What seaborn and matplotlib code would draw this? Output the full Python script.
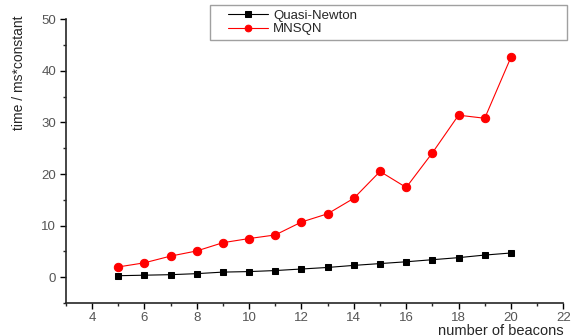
import matplotlib
matplotlib.use('Agg')
import matplotlib.pyplot as plt
import seaborn as sns
import pandas as pd
from matplotlib.ticker import MultipleLocator
from matplotlib.lines import Line2D
from matplotlib.legend_handler import HandlerLine2D

beacons = [5, 6, 7, 8, 9, 10, 11, 12, 13, 14, 15, 16, 17, 18, 19, 20]
quasi_newton = [0.3, 0.4, 0.5, 0.7, 1.0, 1.1, 1.3, 1.6, 1.9, 2.3, 2.65, 3.0, 3.4, 3.8, 4.3, 4.7]
mnsqn = [2.0, 2.8, 4.1, 5.1, 6.7, 7.5, 8.2, 10.7, 12.3, 15.3, 20.5, 17.4, 24.1, 31.4, 30.8, 42.6]

sns.set_style('ticks')
plt.rcParams['font.family'] = ['Liberation Sans', 'DejaVu Sans']

df_q = pd.DataFrame({'beacons': beacons, 'time': quasi_newton})
df_m = pd.DataFrame({'beacons': beacons, 'time': mnsqn})

fig = plt.figure(figsize=(5.73, 3.36), dpi=100)
ax = fig.add_axes([0.115, 0.098, 0.868, 0.845])

sns.lineplot(data=df_q, x='beacons', y='time', ax=ax, color='black', lw=0.8,
             marker='s', markersize=5, markeredgecolor='black', label='Quasi-Newton')
sns.lineplot(data=df_m, x='beacons', y='time', ax=ax, color='red', lw=0.8,
             marker='o', markersize=6, markeredgecolor='red', label='MNSQN')

ax.set_xlim(3, 22)
ax.set_ylim(-5, 50)
ax.xaxis.set_major_locator(MultipleLocator(2))
ax.xaxis.set_minor_locator(MultipleLocator(1))
ax.yaxis.set_major_locator(MultipleLocator(10))
ax.yaxis.set_minor_locator(MultipleLocator(5))
ax.tick_params(which='major', direction='out', length=4, width=1, labelsize=9.5,
               colors='black', labelcolor='#555555', pad=3)
ax.tick_params(which='minor', direction='out', length=2, width=1)
ax.tick_params(axis='x', which='major', pad=2.5)
for s in ['top', 'right']:
    ax.spines[s].set_visible(False)
for s in ['left', 'bottom']:
    ax.spines[s].set_linewidth(1.2)

ax.set_xlabel('number of beacons', fontsize=10.5, va='top', ha='right')
ax.xaxis.set_label_coords(1.0, -0.072)
ax.set_ylabel('time / ms*constant', fontsize=10, fontstretch='condensed')
ax.yaxis.set_label_coords(-0.08, 0.81)

ax.get_legend().remove()
handles, labels = ax.get_legend_handles_labels()
leg = fig.legend(handles, labels, loc='lower left', bbox_to_anchor=(0.367, 0.881, 0.623, 0.104),
                 mode='expand', fontsize=9.5, frameon=True, fancybox=False, edgecolor='#888888',
                 borderpad=0.35, labelspacing=0.1, handlelength=4.0, handletextpad=0.4,
                 borderaxespad=0, markerscale=0.8,
                 handler_map={Line2D: HandlerLine2D(xpad=1.0)})
leg.get_frame().set_linewidth(1.0)

fig.savefig('out.png', dpi=100)
